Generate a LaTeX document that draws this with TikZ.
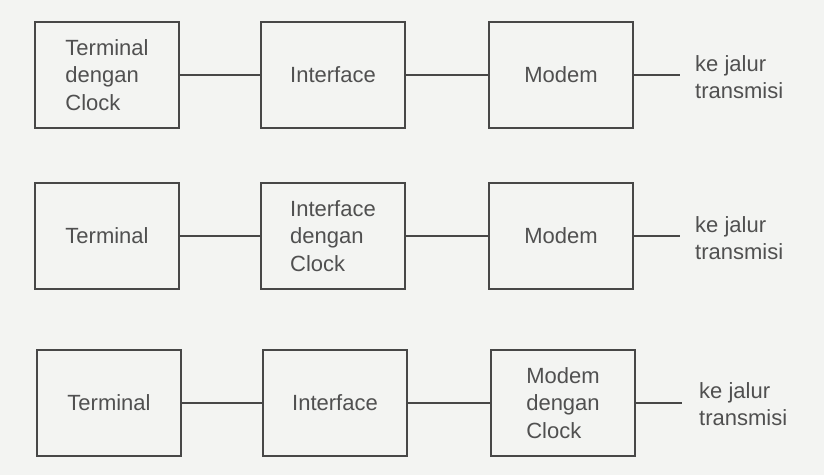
\documentclass[tikz,border=0pt]{standalone}
\usepackage{fontspec}
\setmainfont{Liberation Sans}
\definecolor{paper}{HTML}{F3F4F2}
\definecolor{ink}{HTML}{474747}
\definecolor{txt}{HTML}{505050}
\begin{document}
\begin{tikzpicture}[x=1pt,y=-1pt,
  blk/.style={draw=ink, line width=2pt, minimum width=144pt, minimum height=106pt,
    inner sep=0pt, text=txt, align=left, font=\fontsize{22}{27.5}\selectfont},
  lbl/.style={anchor=west, inner sep=0pt, text=txt, align=left, font=\fontsize{22}{27.5}\selectfont},
  wire/.style={draw=ink, line width=2pt}]
  % page background
  \fill[paper] (0,0) rectangle (824,475);
  \useasboundingbox (0,0) rectangle (824,475);

  % row 1: clock in the terminal
  \node[blk] (t1) at (107,75) {Terminal\\dengan\\Clock};
  \node[blk] (i1) at (333,75) {Interface};
  \node[blk] (m1) at (561,75) {Modem};
  \coordinate (e1) at (680,75);
  \node[lbl] (k1) at (695,77) {ke jalur\\transmisi};
  \draw[wire] (t1) -- (i1);
  \draw[wire] (i1) -- (m1);
  \draw[wire] (m1.east) -- (e1);

  % row 2: clock in the interface
  \node[blk] (t2) at (107,236) {Terminal};
  \node[blk] (i2) at (333,236) {Interface\\dengan\\Clock};
  \node[blk] (m2) at (561,236) {Modem};
  \coordinate (e2) at (680,236);
  \node[lbl] (k2) at (695,238) {ke jalur\\transmisi};
  \draw[wire] (t2) -- (i2);
  \draw[wire] (i2) -- (m2);
  \draw[wire] (m2.east) -- (e2);

  % row 3: clock in the modem
  \node[blk] (t3) at (109,403) {Terminal};
  \node[blk] (i3) at (335,403) {Interface};
  \node[blk] (m3) at (563,403) {Modem\\dengan\\Clock};
  \coordinate (e3) at (682,403);
  \node[lbl] (k3) at (699,404) {ke jalur\\transmisi};
  \draw[wire] (t3) -- (i3);
  \draw[wire] (i3) -- (m3);
  \draw[wire] (m3.east) -- (e3);
\end{tikzpicture}
\end{document}
